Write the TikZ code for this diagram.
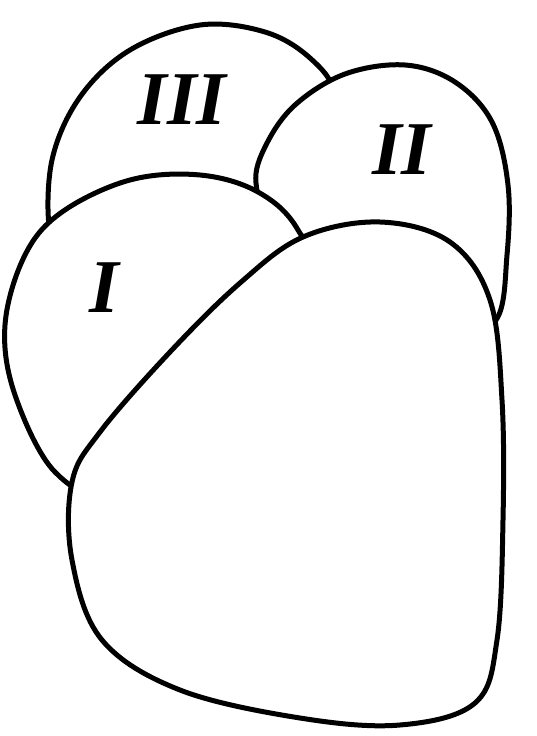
\documentclass[tikz,border=0pt]{standalone}
\usepackage{fontspec}
\setmainfont{Liberation Serif}
\usepackage{tikz}

\begin{document}
\begin{tikzpicture}[
      x=1pt, y=-1pt,
      blob/.style={
        draw,
        fill=white,
        line width=5pt,
        line join=round
      },
      numeral/.style={
        inner sep=0pt,
        font=\fontsize{76}{76}\selectfont\bfseries\itshape
      }
    ]
    \useasboundingbox (0,0) rectangle (536,736);

    % lobe III (back)
    \draw[blob] plot[smooth cycle, tension=0.6] coordinates {
      (50,232) (52,160) (80,97) (130,50) (200,25) (265,32) (310,58)
      (335,95) (330,160) (280,220) (150,240) (70,245)};

    % lobe II
    \draw[blob] plot[smooth cycle, tension=0.6] coordinates {
      (256,183) (266,145) (295,105) (345,74) (405,65) (455,82)
      (492,122) (508,185) (507,255) (496,320) (450,335) (350,265) (275,225)};

    % lobe I
    \draw[blob] plot[smooth cycle, tension=0.6] coordinates {
      (55,472) (15,395) (5,325) (25,255) (62,212) (130,180) (200,175)
      (258,192) (298,230) (320,300) (200,420) (110,490)};

    % front body
    \draw[blob] plot[smooth cycle, tension=0.6] coordinates {
      (303,237) (380,222) (450,242) (490,300) (502,400) (503,520)
      (497,640) (475,703) (400,725) (300,718) (180,690) (102,640)
      (72,560) (72,482) (100,432) (170,352) (240,283)};

    \node[numeral] (three) at (182,100) {III};
    \node[numeral] (two) at (402,150) {II};
    \node[numeral] (one) at (104,288) {I};

\end{tikzpicture}
\end{document}
